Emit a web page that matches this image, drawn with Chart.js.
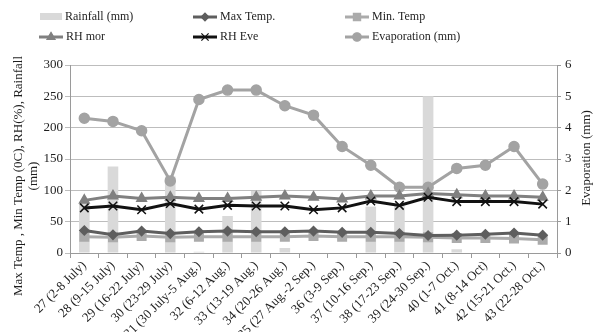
<!DOCTYPE html>
<html lang="en">
<head>
<meta charset="UTF-8">
<title>Weekly weather parameters</title>
<style>
    body { margin: 0; background: #fff; }
    #wrap { width: 594px; height: 332px; position: relative; }
</style>
</head>
<body>
<div id="wrap"><canvas id="myChart"></canvas></div>

<script src="https://cdn.jsdelivr.net/npm/chart.js"></script>
<script>
    // standard meteorological weeks
    const weeks = ['27 (2-8 July)', '28 (9-15 July)', '29 (16-22 July)', '30 (23-29 July)',
        '31 (30 July-5 Aug.)', '32 (6-12 Aug.)', '33 (13-19 Aug.)', '34 (20-26 Aug.)',
        '35 (27 Aug.-2 Sep.)', '36 (3-9 Sep.)', '37 (10-16 Sep.)', '38 (17-23 Sep.)',
        '39 (24-30 Sep.)', '40 (1-7 Oct.)', '41 (8-14 Oct)', '42 (15-21 Oct.)', '43 (22-28 Oct.)'];

    const rainfall = [82, 138, 0, 122, 2, 59, 99, 8, 0, 0, 74, 75, 250, 6, 0, 0, 0];
    const maxTemp  = [36, 29, 35, 31, 34, 35, 34, 34, 35, 33, 33, 31, 28, 28.5, 30, 32, 28.5];
    const minTemp  = [26, 25, 27, 25, 26, 26, 26, 26, 27, 26, 26, 26, 25, 24, 24, 23, 21];
    const rhMor    = [84, 91, 87, 89, 87, 87, 89, 91, 89, 86, 91, 91, 95, 93, 91, 91, 89];
    const rhEve    = [72, 75, 69, 79, 70, 76, 75, 75, 69, 72, 83, 76, 89, 82, 82, 82, 78];
    const evaporation = [4.3, 4.2, 3.9, 2.3, 4.9, 5.2, 5.2, 4.7, 4.4, 3.4, 2.8, 2.1, 2.1, 2.7, 2.8, 3.4, 2.2];

    const leftTicks = [0, 300, 50];
    const rightTicks = [0, 6, 1];

    const FONT = '"Liberation Serif", "Times New Roman", serif';
    const TXT = '#1e1e1e';

    // legend drawn as a 3 x 2 grid like the original
    const legendSpec = [
        { i: 0, x: 40, y: 17 }, { i: 1, x: 193, y: 17 }, { i: 2, x: 345, y: 17 },
        { i: 3, x: 39, y: 37 }, { i: 4, x: 193, y: 37 }, { i: 5, x: 345, y: 37 }
    ];

    const gridLegend = {
        id: 'gridLegend',
        afterDraw(chart) {
            const ctx = chart.ctx;
            ctx.save();
            ctx.font = '12px ' + FONT;
            ctx.textBaseline = 'middle';
            legendSpec.forEach(s => {
                const ds = chart.data.datasets[s.i];
                if (ds.type === 'bar') {
                    ctx.fillStyle = ds.backgroundColor;
                    ctx.fillRect(s.x, s.y - 4, 22, 7);
                    ctx.fillStyle = TXT;
                    ctx.fillText(ds.label, s.x + 25, s.y);
                    return;
                }
                ctx.strokeStyle = ds.borderColor;
                ctx.lineWidth = 3;
                ctx.beginPath();
                ctx.moveTo(s.x, s.y);
                ctx.lineTo(s.x + 24, s.y);
                ctx.stroke();
                ctx.fillStyle = ds.pointBackgroundColor;
                ctx.strokeStyle = ds.pointBorderColor;
                ctx.lineWidth = 1.2;
                Chart.helpers.drawPoint(ctx, {
                    pointStyle: ds.pointStyle, radius: ds.pointRadius * 0.85, borderWidth: 1.2, rotation: 0
                }, s.x + 12, s.y);
                ctx.fillStyle = TXT;
                ctx.fillText(ds.label, s.x + 27, s.y);
            });

            // axis titles (both read bottom to top)
            ctx.font = '13px ' + FONT;
            ctx.textAlign = 'center';
            ctx.translate(19, 176);
            ctx.rotate(-Math.PI / 2);
            ctx.fillText('Max Temp , Min Temp (0C), RH(%), Rainfall', 0, 0);
            ctx.fillText('(mm)', 0, 15);
            ctx.setTransform(1, 0, 0, 1, 0, 0);
            ctx.translate(587, 158);
            ctx.rotate(-Math.PI / 2);
            ctx.fillText('Evaporation (mm)', 0, 0);
            ctx.restore();
        }
    };

    function lineSet(label, data, color, style, radius, order, axis) {
        return {
            type: 'line',
            label: label,
            data: data,
            yAxisID: axis || 'y',
            borderColor: color,
            borderWidth: 3,
            pointStyle: style,
            pointRadius: radius,
            pointBackgroundColor: color,
            pointBorderColor: color,
            pointBorderWidth: 1.5,
            tension: 0,
            fill: false,
            order: order
        };
    }

    const ctx = document.getElementById('myChart').getContext('2d');
    const myChart = new Chart(ctx, {
        data: {
            labels: weeks,
            datasets: [
                {
                    type: 'bar',
                    label: 'Rainfall (mm)',
                    data: rainfall,
                    yAxisID: 'y',
                    backgroundColor: '#d9d9d9',
                    barPercentage: 0.37,
                    categoryPercentage: 1,
                    order: 10
                },
                lineSet('Max Temp.', maxTemp, '#5e5e5e', 'rectRot', 4.5, 5),
                lineSet('Min. Temp', minTemp, '#ababab', 'rect', 6, 6),
                lineSet('RH mor', rhMor, '#808080', 'triangle', 5.5, 3),
                lineSet('RH Eve', rhEve, '#111111', 'crossRot', 6, 2),
                lineSet('Evaporation (mm)', evaporation, '#a3a3a3', 'circle', 5, 4, 'y1')
            ]
        },
        options: {
            responsive: true,
            maintainAspectRatio: false,
            animation: false,
            layout: { padding: { top: 65, left: 0, right: 0, bottom: 0 } },
            plugins: {
                legend: { display: false },
                tooltip: { enabled: false }
            },
            scales: {
                x: {
                    offset: true,
                    grid: { offset: true, drawOnChartArea: false, drawTicks: true, tickLength: 5, color: '#9a9a9a' },
                    border: { display: true, color: '#9a9a9a' },
                    ticks: {
                        minRotation: 45, maxRotation: 45, autoSkip: false, padding: 0,
                        color: TXT, font: { family: FONT, size: 13 }
                    },
                    afterFit(scale) { scale.height = 79; }
                },
                y: {
                    position: 'left',
                    min: leftTicks[0], max: leftTicks[1],
                    grid: { color: '#bdbdbd', tickLength: 5 },
                    border: { display: true, color: '#9a9a9a' },
                    ticks: { stepSize: leftTicks[2], padding: 2, color: TXT, font: { family: FONT, size: 13 } },
                    afterFit(scale) { scale.width = 70; }
                },
                y1: {
                    position: 'right',
                    min: rightTicks[0], max: rightTicks[1],
                    grid: { drawOnChartArea: false, tickLength: 4, color: '#9a9a9a' },
                    border: { display: true, color: '#9a9a9a' },
                    ticks: { stepSize: rightTicks[2], padding: 4, color: TXT, font: { family: FONT, size: 13 } },
                    afterFit(scale) { scale.width = 37; }
                }
            }
        },
        plugins: [gridLegend]
    });
</script>
</body>
</html>
